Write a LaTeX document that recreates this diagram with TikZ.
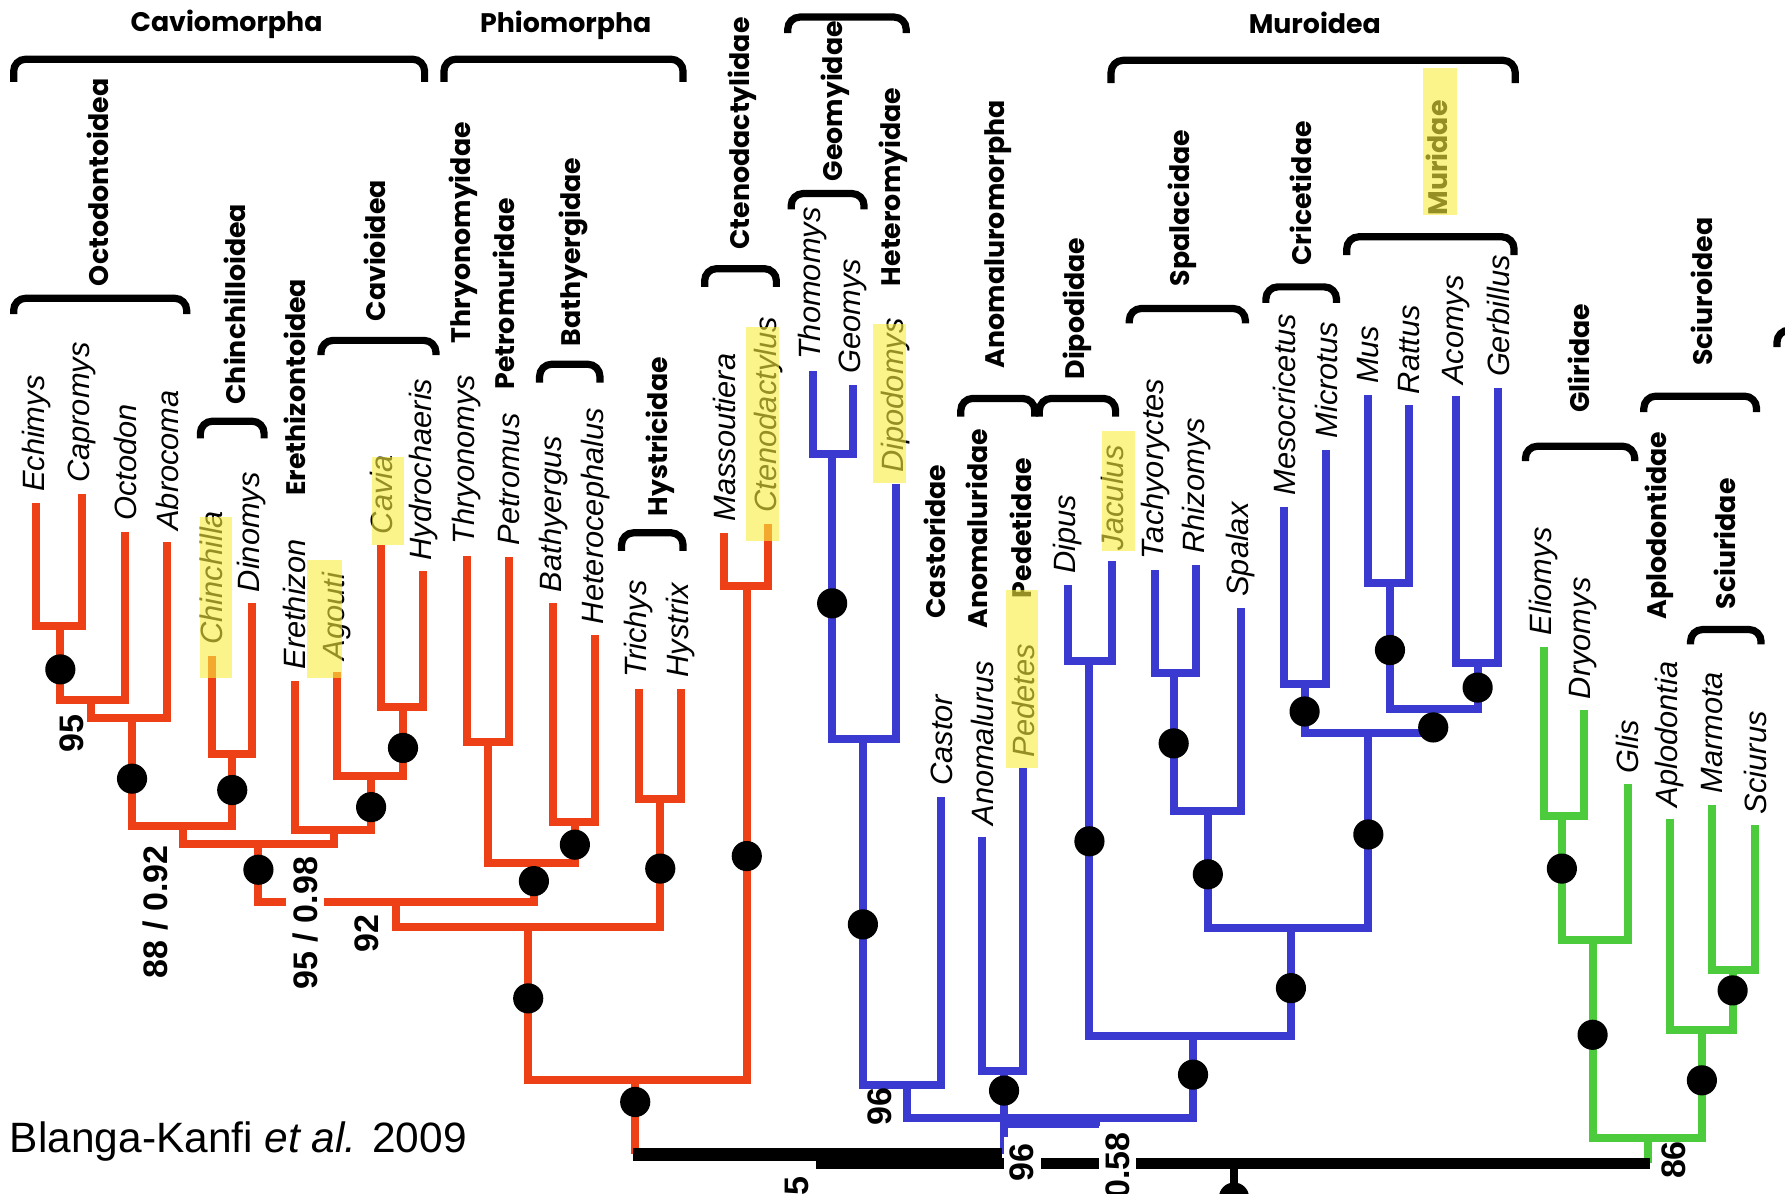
\documentclass[tikz,border=0pt]{standalone}
\usepackage{fontspec}
\setmainfont{Liberation Sans}
\newfontfamily\cladefont{Poppins}
\usetikzlibrary{positioning}
\definecolor{hred}{RGB}{238,64,22}
\definecolor{mblue}{RGB}{58,58,208}
\definecolor{sgreen}{RGB}{76,204,60}
\definecolor{hilite}{RGB}{247,238,63}

\begin{document}
\begin{tikzpicture}[x=0.01cm,y=-0.01cm,
        br/.style={line width=2pt},
        redbr/.style={br,draw=hred},
        bluebr/.style={br,draw=mblue},
        greenbr/.style={br,draw=sgreen},
        dot/.style={circle,fill=black,inner sep=0pt,minimum size=0.265cm},
        taxon/.style={rotate=90,anchor=west,inner xsep=2.6pt,inner ysep=0pt,font=\itshape\fontsize{7.7}{8}\selectfont},
        clade/.style={rotate=90,anchor=west,inner sep=0pt,font=\cladefont\bfseries\fontsize{6.7}{8}\selectfont},
        grp/.style={inner sep=0pt,font=\cladefont\bfseries\fontsize{6.7}{8}\selectfont},
        supp/.style={rotate=90,inner sep=1.6pt,font=\bfseries\fontsize{8.5}{9}\selectfont},
        brk/.style={line width=1.8pt,rounded corners=3pt},
        hl/.style={fill=hilite,fill opacity=0.6}]
        %画布
        \useasboundingbox (0,0) rectangle (1568,1048);
        \fill[white] (0,0) rectangle (1568,1048);
        \clip (0,0) rectangle (1568,1048);
        %红色端点
        \coordinate (ech) at (32,442);
        \coordinate (cap) at (72,434);
        \coordinate (oct) at (110,467);
        \coordinate (abr) at (147,476);
        \coordinate (chi) at (186,576);
        \coordinate (din) at (221,530);
        \coordinate (ere) at (259,598);
        \coordinate (ago) at (296,590);
        \coordinate (cav) at (335,479);
        \coordinate (hyd) at (372,502);
        \coordinate (thr) at (410,488);
        \coordinate (pet) at (447,489);
        \coordinate (bat) at (486,530);
        \coordinate (het) at (523,558);
        \coordinate (tri) at (561,605);
        \coordinate (hys) at (598,605);
        \coordinate (mas) at (636,468);
        \coordinate (cte) at (675,460);
        %红色内部节点
        \coordinate (n1) at (53,550);
        \coordinate (n2) at (80,615);
        \coordinate (n3) at (116,631);
        \coordinate (n4) at (204,662);
        \coordinate (n5) at (161,726);
        \coordinate (n6) at (354,621);
        \coordinate (n7) at (326,682);
        \coordinate (n8) at (293,729);
        \coordinate (n9) at (227,741);
        \coordinate (n10) at (429,652);
        \coordinate (n11) at (505,722);
        \coordinate (n12) at (469,758);
        \coordinate (n13) at (348,792);
        \coordinate (n14) at (580,702);
        \coordinate (n15) at (464,814);
        \coordinate (n16) at (656,515);
        \coordinate (n17) at (558,949);
        %蓝色端点
        \coordinate (tho) at (714,326);
        \coordinate (geo) at (749,338);
        \coordinate (dip) at (787,425);
        \coordinate (cas) at (827,700);
        \coordinate (ano) at (863,735);
        \coordinate (ped) at (899,675);
        \coordinate (dps) at (938,514);
        \coordinate (jac) at (977,493);
        \coordinate (tac) at (1015,501);
        \coordinate (rhi) at (1051,496);
        \coordinate (spa) at (1090,534);
        \coordinate (mes) at (1128,445);
        \coordinate (mic) at (1165,395);
        \coordinate (mus) at (1202,347);
        \coordinate (rat) at (1238,356);
        \coordinate (aco) at (1279,348);
        \coordinate (ger) at (1316,341);
        %蓝色内部节点
        \coordinate (b1) at (731,399);
        \coordinate (b2) at (758,649);
        \coordinate (b3) at (797,953);
        \coordinate (b4) at (882,941);
        \coordinate (b5) at (957,581);
        \coordinate (b6) at (1031,591);
        \coordinate (b7) at (1061,712);
        \coordinate (b8) at (1146,601);
        \coordinate (b9) at (1221,512);
        \coordinate (b10) at (1298,582);
        \coordinate (b11) at (1259,623);
        \coordinate (b12) at (1202,644);
        \coordinate (b13) at (1134,815);
        \coordinate (b14) at (1048,910);
        \coordinate (b15) at (882,982);
        %绿色端点与节点
        \coordinate (eli) at (1356,568);
        \coordinate (dry) at (1391,624);
        \coordinate (gli) at (1430,689);
        \coordinate (apl) at (1467,719);
        \coordinate (mar) at (1504,707);
        \coordinate (sci) at (1542,725);
        \coordinate (g1) at (1372,717);
        \coordinate (g2) at (1399,826);
        \coordinate (g3) at (1522,852);
        \coordinate (g4) at (1495,905);
        \coordinate (g5) at (1448,1000);
        %根
        \coordinate (rbar) at (556,1014);
        \coordinate (rbarend) at (880,1014);
        \coordinate (bar2a) at (717,1022);
        \coordinate (bar2b) at (1449,1022);
        \coordinate (rootdot) at (1084,1052);
        %红色分支
        \draw[redbr] (ech) |- (n1) -| (cap);
        \draw[redbr] (n1) |- (n2) -| (oct);
        \draw[redbr] (n2) |- (n3) -| (abr);
        \draw[redbr] (chi) |- (n4) -| (din);
        \draw[redbr] (n3) |- (n5) -| (n4);
        \draw[redbr] (cav) |- (n6) -| (hyd);
        \draw[redbr] (ago) |- (n7) -| (n6);
        \draw[redbr] (ere) |- (n8) -| (n7);
        \draw[redbr] (n5) |- (n9) -| (n8);
        \draw[redbr] (thr) |- (n10) -| (pet);
        \draw[redbr] (bat) |- (n11) -| (het);
        \draw[redbr] (n10) |- (n12) -| (n11);
        \draw[redbr] (n9) |- (n13) -| (n12);
        \draw[redbr] (tri) |- (n14) -| (hys);
        \draw[redbr] (n13) |- (n15) -| (n14);
        \draw[redbr] (mas) |- (n16) -| (cte);
        \draw[redbr] (n15) |- (n17) -| (n16);
        \draw[redbr] (n17) -- (n17 |- rbar);
        %蓝色分支
        \draw[bluebr] (tho) |- (b1) -| (geo);
        \draw[bluebr] (b1) |- (b2) -| (dip);
        \draw[bluebr] (b2) |- (b3) -| (cas);
        \draw[bluebr] (ano) |- (b4) -| (ped);
        \draw[bluebr] (dps) |- (b5) -| (jac);
        \draw[bluebr] (tac) |- (b6) -| (rhi);
        \draw[bluebr] (b6) |- (b7) -| (spa);
        \draw[bluebr] (mes) |- (b8) -| (mic);
        \draw[bluebr] (mus) |- (b9) -| (rat);
        \draw[bluebr] (aco) |- (b10) -| (ger);
        \draw[bluebr] (b9) |- (b11) -| (b10);
        \draw[bluebr] (b8) |- (b12) -| (b11);
        \draw[bluebr] (b7) |- (b13) -| (b12);
        \draw[bluebr] (b5) |- (b14) -| (b13);
        \draw[bluebr] (b3) |- (b15) -| (b14);
        \draw[bluebr] (b4) -- (b4 |- rbar);
        \draw[bluebr] ([yshift=-1.6pt]b15) -- ([yshift=-1.6pt]b15 -| 966,0);
        %绿色分支
        \draw[greenbr] (eli) |- (g1) -| (dry);
        \draw[greenbr] (g1) |- (g2) -| (gli);
        \draw[greenbr] (mar) |- (g3) -| (sci);
        \draw[greenbr] (apl) |- (g4) -| (g3);
        \draw[greenbr] (g2) |- (g5) -| (g4);
        \draw[greenbr] (g5) -- (g5 |- bar2b);
        %黑色主干
        \draw[line width=3.2pt] (rbar) -- (rbarend);
        \draw[line width=2.85pt] (bar2a) -- (bar2b);
        \draw[line width=2pt] (rootdot |- bar2b) -- (rootdot);
        \node[dot] (root) at (rootdot) {};
        %节点圆点
        \node[dot] (k1) at (53,588) {};
        \node[dot] (k2) at (116,684) {};
        \node[dot] (k3) at (204,694) {};
        \node[dot] (k4) at (354,657) {};
        \node[dot] (k5) at (326,709) {};
        \node[dot] (k6) at (227,764) {};
        \node[dot] (k7) at (505,742) {};
        \node[dot] (k8) at (469,774) {};
        \node[dot] (k9) at (580,763) {};
        \node[dot] (k10) at (464,877) {};
        \node[dot] (k11) at (656,752) {};
        \node[dot] (k12) at (558,968) {};
        \node[dot] (k13) at (731,530) {};
        \node[dot] (k14) at (758,812) {};
        \node[dot] (k15) at (882,958) {};
        \node[dot] (k16) at (957,739) {};
        \node[dot] (k17) at (1031,653) {};
        \node[dot] (k18) at (1061,768) {};
        \node[dot] (k19) at (1146,625) {};
        \node[dot] (k20) at (1221,571) {};
        \node[dot] (k21) at (1298,604) {};
        \node[dot] (k22) at (1259,639) {};
        \node[dot] (k23) at (1202,733) {};
        \node[dot] (k24) at (1134,868) {};
        \node[dot] (k25) at (1048,944) {};
        \node[dot] (k26) at (1372,763) {};
        \node[dot] (k27) at (1399,909) {};
        \node[dot] (k28) at (1522,870) {};
        \node[dot] (k29) at (1495,949) {};
        %属名
        \node[taxon] (tEch) at (ech) {Echimys};
        \node[taxon] (tCap) at (cap) {Capromys};
        \node[taxon] (tOct) at (oct) {Octodon};
        \node[taxon] (tAbr) at (abr) {Abrocoma};
        \node[taxon] (tChi) at (chi) {Chinchilla};
        \node[taxon] (tDin) at (din) {Dinomys};
        \node[taxon] (tEre) at (ere) {Erethizon};
        \node[taxon] (tAgo) at (ago) {Agouti};
        \node[taxon] (tCav) at (cav) {Cavia};
        \node[taxon] (tHyd) at (hyd) {Hydrochaeris};
        \node[taxon] (tThr) at (thr) {Thryonomys};
        \node[taxon] (tPet) at (pet) {Petromus};
        \node[taxon] (tBat) at (bat) {Bathyergus};
        \node[taxon] (tHet) at (het) {Heterocephalus};
        \node[taxon] (tTri) at (tri) {Trichys};
        \node[taxon] (tHys) at (hys) {Hystrix};
        \node[taxon] (tMas) at (mas) {Massoutiera};
        \node[taxon] (tCte) at (cte) {Ctenodactylus};
        \node[taxon] (tTho) at (tho) {Thomomys};
        \node[taxon] (tGeo) at (geo) {Geomys};
        \node[taxon] (tDip) at (dip) {Dipodomys};
        \node[taxon] (tCas) at (cas) {Castor};
        \node[taxon] (tAno) at (ano) {Anomalurus};
        \node[taxon] (tPed) at (ped) {Pedetes};
        \node[taxon] (tDps) at (dps) {Dipus};
        \node[taxon] (tJac) at (jac) {Jaculus};
        \node[taxon] (tTac) at (tac) {Tachyoryctes};
        \node[taxon] (tRhi) at (rhi) {Rhizomys};
        \node[taxon] (tSpa) at (spa) {Spalax};
        \node[taxon] (tMes) at (mes) {Mesocricetus};
        \node[taxon] (tMic) at (mic) {Microtus};
        \node[taxon] (tMus) at (mus) {Mus};
        \node[taxon] (tRat) at (rat) {Rattus};
        \node[taxon] (tAco) at (aco) {Acomys};
        \node[taxon] (tGer) at (ger) {Gerbillus};
        \node[taxon] (tEli) at (eli) {Eliomys};
        \node[taxon] (tDry) at (dry) {Dryomys};
        \node[taxon] (tGli) at (gli) {Glis};
        \node[taxon] (tApl) at (apl) {Aplodontia};
        \node[taxon] (tMar) at (mar) {Marmota};
        \node[taxon] (tSci) at (sci) {Sciurus};
        %类群括号
        \draw[brk] (12,72) -- (12,52) -- (373,52) -- (373,72);
        \draw[brk] (390,72) -- (390,52) -- (600,52) -- (600,72);
        \draw[brk] (976,73) -- (976,53) -- (1331,53) -- (1331,73);
        \draw[brk] (692,29) -- (692,15) -- (796,15) -- (796,29);
        \draw[brk] (12,276) -- (12,262) -- (164,262) -- (164,276);
        \draw[brk] (176,385) -- (176,370) -- (232,370) -- (232,385);
        \draw[brk] (282,312) -- (282,299) -- (383,299) -- (383,312);
        \draw[brk] (474,336) -- (474,320) -- (527,320) -- (527,336);
        \draw[brk] (546,484) -- (546,468) -- (600,468) -- (600,484);
        \draw[brk] (619,252) -- (619,236) -- (682,236) -- (682,252);
        \draw[brk] (695,184) -- (695,170) -- (759,170) -- (759,184);
        \draw[brk] (844,366) -- (844,350) -- (909,350) -- (909,366);
        \draw[brk] (913,366) -- (913,350) -- (980,350) -- (980,366);
        \draw[brk] (992,284) -- (992,271) -- (1094,271) -- (1094,284);
        \draw[brk] (1112,266) -- (1112,252) -- (1174,252) -- (1174,266);
        \draw[brk] (1183,224) -- (1183,208) -- (1330,208) -- (1330,224);
        \draw[brk] (1340,405) -- (1340,392) -- (1436,392) -- (1436,405);
        \draw[brk] (1444,362) -- (1444,348) -- (1543,348) -- (1543,362);
        \draw[brk] (1485,566) -- (1485,553) -- (1547,553) -- (1547,566);
        \draw[brk] (1561,305) -- (1561,290) -- (1600,290);
        %类群名
        \node[grp] (gCav) at (199,21) {Caviomorpha};
        \node[grp] (gPhi) at (497,22) {Phiomorpha};
        \node[grp] (gMur) at (1155,20) {Muroidea};
        \node[clade] (cOct) at (86,252) {Octodontoidea};
        \node[clade] (cChi) at (206,356) {Chinchilloidea};
        \node[clade] (cEre) at (259,436) {Erethizontoidea};
        \node[clade] (cCav) at (329,283) {Cavioidea};
        \node[clade] (cThr) at (407,302) {Thryonomyidae};
        \node[clade] (cPet) at (443,343) {Petromuridae};
        \node[clade] (cBat) at (504,305) {Bathyergidae};
        \node[clade] (cHys) at (580,454) {Hystricidae};
        \node[clade] (cCte) at (652,220) {Ctenodactylidae};
        \node[clade] (cGeo) at (734,160) {Geomyidae};
        \node[clade] (cHet) at (785,252) {Heteromyidae};
        \node[clade] (cAnm) at (877,324) {Anomaluromorpha};
        \node[clade] (cDip) at (946,334) {Dipodidae};
        \node[clade] (cCas) at (821,544) {Castoridae};
        \node[clade] (cAno) at (858,553) {Anomaluridae};
        \node[clade] (cPed) at (897,526) {Pedetidae};
        \node[clade] (cSpa) at (1039,252) {Spalacidae};
        \node[clade] (cCri) at (1143,234) {Cricetidae};
        \node[clade] (cMur) at (1262,190) {Muridae};
        \node[clade] (cGli) at (1387,363) {Gliridae};
        \node[clade] (cScd) at (1495,322) {Sciuroidea};
        \node[clade] (cApl) at (1458,545) {Aplodontidae};
        \node[clade] (cSci) at (1515,536) {Sciuridae};
        %支持率
        \node[supp] (s1) at (63,644) {95};
        \node[supp] (s2) at (137,801) {88 / 0.92};
        \node[supp,fill=white] (s3) at (268,811) {95 / 0.98};
        \node[supp] (s4) at (322,820) {92};
        \node[supp] (s5) at (773,972) {96};
        \node[supp,fill=white] (s6) at (898,1021) {96};
        \node[supp,fill=white] (s7) at (982,1024) {0.58};
        \node[supp] (s8) at (1470,1019) {86};
        \node[supp] (s9) at (700,1042) {5};
        \node[anchor=west,inner sep=0pt,font=\fontsize{10.6}{13}\selectfont] (cite) at (8,1003) {Blanga-Kanfi \textit{et al.} 2009};
        %黄色标记
        \fill[hl] (176,454) rectangle (204,596);
        \fill[hl] (270,492) rectangle (300,596);
        \fill[hl] (327,401) rectangle (355,479);
        \fill[hl] (655,287) rectangle (684,475);
        \fill[hl] (767,285) rectangle (796,424);
        \fill[hl] (884,518) rectangle (912,675);
        \fill[hl] (968,379) rectangle (997,484);
        \fill[hl] (1250,60) rectangle (1280,189);
\end{tikzpicture}
\end{document}
